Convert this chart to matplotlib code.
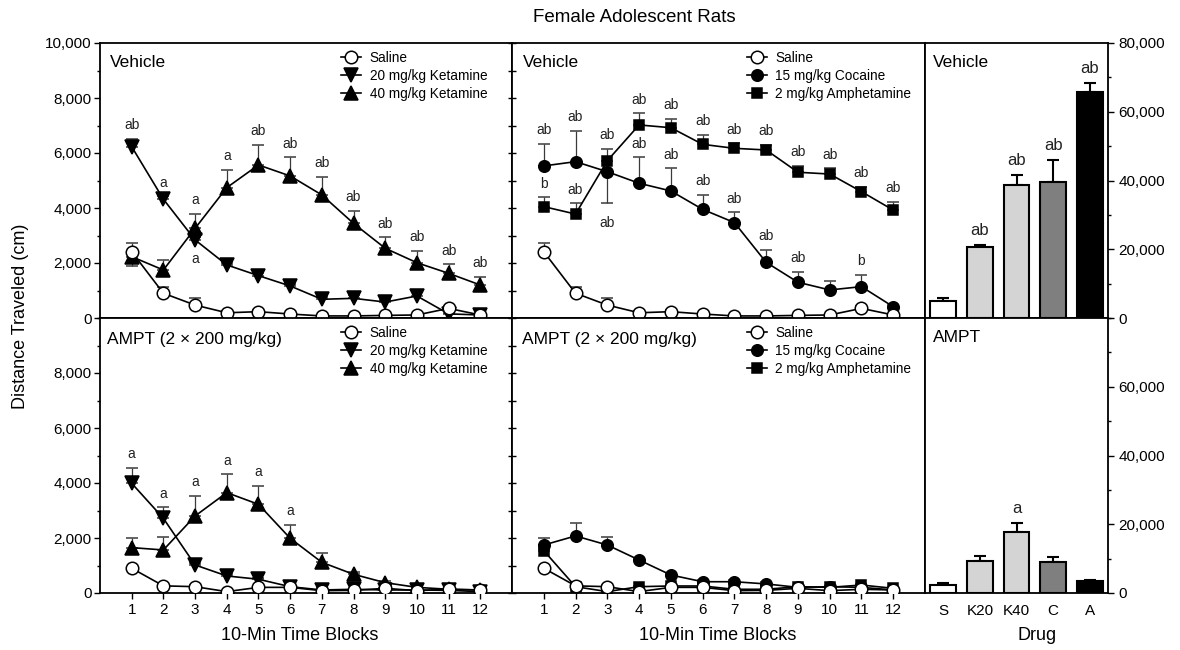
import matplotlib
matplotlib.use("Agg")
import matplotlib.pyplot as plt
from matplotlib.lines import Line2D
from matplotlib.ticker import MultipleLocator, FixedLocator, FuncFormatter

plt.rcParams['font.family'] = ['Liberation Sans', 'DejaVu Sans']

# ---------------- data ----------------
blocks = list(range(1, 13))

# Vehicle pretreatment
veh_sal = [2410, 900, 470, 190, 230, 145, 75, 75, 95, 110, 350, 110]
veh_sal_err = [300, 220, 240, 60, 60, 50, 40, 40, 50, 50, 80, 40]
veh_k20 = [6230, 4320, 2840, 1930, 1540, 1165, 680, 715, 580, 800, 150, 110]
veh_k20_err = [280, 100, 100, 80, 80, 80, 80, 120, 80, 190, 50, 50]
veh_k40 = [2230, 1745, 3260, 4740, 5565, 5165, 4475, 3440, 2535, 2010, 1625, 1200]
veh_k40_err = [0, 365, 520, 645, 725, 680, 665, 450, 400, 425, 325, 300]
veh_k40_err_dn = [345, 0, 0, 0, 0, 0, 0, 0, 0, 0, 0, 0]
veh_coc = [5530, 5685, 5320, 4900, 4620, 3950, 3470, 2025, 1300, 1020, 1140, 410]
veh_coc_err = [800, 1125, 0, 945, 825, 520, 375, 450, 390, 340, 425, 60]
veh_coc_err_dn = [0, 0, 1150, 0, 0, 0, 0, 0, 0, 0, 0, 0]
veh_amp = [4050, 3780, 5720, 7020, 6920, 6315, 6170, 6110, 5300, 5235, 4595, 3925]
veh_amp_err = [340, 390, 425, 425, 315, 340, 180, 180, 230, 205, 180, 305]

# AMPT pretreatment
ampt_sal = [900, 260, 230, 50, 205, 205, 85, 95, 170, 85, 135, 110]
ampt_sal_err = [60, 50, 50, 40, 40, 40, 40, 40, 40, 40, 40, 40]
ampt_k20 = [3990, 2715, 1020, 620, 500, 230, 110, 135, 110, 110, 95, 50]
ampt_k20_err = [570, 400, 60, 60, 60, 60, 60, 200, 60, 60, 60, 60]
ampt_k40 = [1650, 1565, 2800, 3650, 3225, 1990, 1115, 680, 375, 205, 135, 110]
ampt_k40_err = [365, 485, 740, 665, 680, 485, 325, 80, 60, 60, 60, 60]
ampt_coc = [1745, 2075, 1745, 1200, 655, 410, 410, 330, 205, 230, 205, 110]
ampt_coc_err = [265, 460, 300, 60, 60, 60, 60, 60, 60, 60, 60, 60]
ampt_amp = [1540, 230, 50, 230, 255, 255, 135, 135, 230, 205, 290, 170]
ampt_amp_err = [60, 50, 40, 40, 40, 40, 40, 40, 40, 40, 40, 40]

# significance letters
zero12 = [0] * 12
veh_k20_sig = ['ab', 'a', 'a', '', '', '', '', '', '', '', '', '']
veh_k20_below = [2]
veh_k40_sig = ['', '', 'a', 'a', 'ab', 'ab', 'ab', 'ab', 'ab', 'ab', 'ab', 'ab']
veh_coc_sig = ['ab', 'ab', 'ab', 'ab', 'ab', 'ab', 'ab', 'ab', 'ab', '', 'b', '']
veh_coc_below = [2]
veh_amp_sig = ['b', 'ab', 'ab', 'ab', 'ab', 'ab', 'ab', 'ab', 'ab', 'ab', 'ab', 'ab']
ampt_k20_sig = ['a', 'a', '', '', '', '', '', '', '', '', '', '']
ampt_k40_sig = ['', '', 'a', 'a', 'a', 'a', '', '', '', '', '', '']

# total distance (bars)
drugs = ['S', 'K20', 'K40', 'C', 'A']
bar_colors = ['white', '#d4d4d4', '#d4d4d4', '#7f7f7f', 'black']
veh_total = [5060, 20670, 38650, 39550, 65620]
veh_total_err = [790, 670, 2920, 6400, 2810]
veh_total_sig = ['', 'ab', 'ab', 'ab', 'ab']
ampt_total = [2440, 9330, 17780, 9110, 3560]
ampt_total_err = [330, 1440, 2670, 1330, 330]
ampt_total_sig = ['', '', 'a', '', '']

ket_labels = ['Saline', '20 mg/kg Ketamine', '40 mg/kg Ketamine']
psy_labels = ['Saline', '15 mg/kg Cocaine', '2 mg/kg Amphetamine']

# ---------------- styles ----------------
STY_SAL = dict(marker='o', mfc='white', ms=9)
STY_K20 = dict(marker='v', mfc='black', ms=9.5)
STY_K40 = dict(marker='^', mfc='black', ms=9.5)
STY_COC = dict(marker='o', mfc='black', ms=8.3)
STY_AMP = dict(marker='s', mfc='black', ms=7.5)

W, H = 1180, 650
fig = plt.figure(figsize=(W / 100, H / 100), dpi=100)


def rect(x0, y0, x1, y1):
    return [x0 / W, 1 - y1 / H, (x1 - x0) / W, (y1 - y0) / H]


XL, XM, XR, XE = 100, 512, 925, 1108
YT, YMID, YB = 43, 318, 593

ax_tl = fig.add_axes(rect(XL, YT, XM, YMID))
ax_tm = fig.add_axes(rect(XM, YT, XR, YMID))
ax_tr = fig.add_axes(rect(XR, YT, XE, YMID))
ax_bl = fig.add_axes(rect(XL, YMID, XM, YB))
ax_bm = fig.add_axes(rect(XM, YMID, XR, YB))
ax_br = fig.add_axes(rect(XR, YMID, XE, YB))

comma = FuncFormatter(lambda v, p: f"{v:,.0f}")
TICKFS = 11
SIGFS = 10


def draw_series(ax, y, up, dn, sty, z):
    ax.errorbar(blocks, y, yerr=[dn, up], color='black', lw=1.2,
                mec='black', mew=1.1, ecolor='#3a3a3a', elinewidth=0.9,
                capsize=4, capthick=0.9, zorder=z, **sty)


def draw_sig(ax, y, up, dn, sig, below=()):
    for i, s in enumerate(sig):
        if not s:
            continue
        if i in below:
            ax.annotate(s, (blocks[i], y[i] - dn[i]), xytext=(0, -9),
                        textcoords='offset points', ha='center', va='top',
                        fontsize=SIGFS, color='#222222')
        else:
            ax.annotate(s, (blocks[i], y[i] + up[i]), xytext=(0, 7),
                        textcoords='offset points', ha='center', va='baseline',
                        fontsize=SIGFS, color='#222222')


def legend(ax, labels, styles, xanchor):
    handles = [Line2D([], [], color='black', lw=1.2, mec='black', mew=1.1, **s)
               for s in styles]
    ax.legend(handles, labels, loc='upper left', bbox_to_anchor=(xanchor, 0.97),
              frameon=False, fontsize=9.8, handlelength=1.5, handletextpad=0.6,
              labelspacing=0.28, borderpad=0, borderaxespad=0)


def style_line_axes(ax, top, first):
    ax.set_xlim(0, 13)
    ax.set_ylim(0, 10000)
    for sp in ax.spines.values():
        sp.set_linewidth(1.3)
    ax.tick_params(axis='y', which='both', right=False)
    if first:
        if top:
            ax.yaxis.set_major_locator(MultipleLocator(2000))
        else:
            ax.yaxis.set_major_locator(FixedLocator([0, 2000, 4000, 6000, 8000]))
        ax.yaxis.set_minor_locator(MultipleLocator(1000))
        ax.yaxis.set_major_formatter(comma)
        ax.tick_params(axis='y', which='major', direction='out', length=4.5,
                       width=1, labelsize=TICKFS, pad=1.5)
        ax.tick_params(axis='y', which='minor', direction='out', length=2.5, width=1)
    else:
        ax.yaxis.set_major_locator(MultipleLocator(1000))
        ax.yaxis.set_minor_locator(FixedLocator([]))
        ax.tick_params(axis='y', which='major', direction='inout', length=6,
                       width=1, labelleft=False)
    if top:
        ax.tick_params(axis='x', which='both', bottom=False, labelbottom=False)
    else:
        ax.set_xticks(blocks)
        ax.tick_params(axis='x', which='major', direction='out', length=4.5,
                       width=1, labelsize=TICKFS, pad=3)
    ax.tick_params(axis='x', which='minor', bottom=False)


# ---- top-left: Vehicle, ketamine ----
ax = ax_tl
draw_series(ax, veh_k40, veh_k40_err, veh_k40_err_dn, STY_K40, 3)
draw_series(ax, veh_k20, veh_k20_err, zero12, STY_K20, 3.2)
draw_series(ax, veh_sal, veh_sal_err, zero12, STY_SAL, 4)
draw_sig(ax, veh_k20, veh_k20_err, zero12, veh_k20_sig, veh_k20_below)
draw_sig(ax, veh_k40, veh_k40_err, veh_k40_err_dn, veh_k40_sig)
style_line_axes(ax, True, True)
legend(ax, ket_labels, [STY_SAL, STY_K20, STY_K40], 0.585)
ax.text(0.024, 0.93, 'Vehicle', transform=ax.transAxes, fontsize=12.5,
        va='center', ha='left')

# ---- top-middle: Vehicle, psychostimulants ----
ax = ax_tm
draw_series(ax, veh_amp, veh_amp_err, zero12, STY_AMP, 3)
draw_series(ax, veh_coc, veh_coc_err, veh_coc_err_dn, STY_COC, 3.2)
draw_series(ax, veh_sal, veh_sal_err, zero12, STY_SAL, 4)
draw_sig(ax, veh_coc, veh_coc_err, veh_coc_err_dn, veh_coc_sig, veh_coc_below)
draw_sig(ax, veh_amp, veh_amp_err, zero12, veh_amp_sig)
style_line_axes(ax, True, False)
legend(ax, psy_labels, [STY_SAL, STY_COC, STY_AMP], 0.568)
ax.text(0.026, 0.93, 'Vehicle', transform=ax.transAxes, fontsize=12.5,
        va='center', ha='left')

# ---- bottom-left: AMPT, ketamine ----
ax = ax_bl
draw_series(ax, ampt_k40, ampt_k40_err, zero12, STY_K40, 3)
draw_series(ax, ampt_k20, ampt_k20_err, zero12, STY_K20, 3.2)
draw_series(ax, ampt_sal, ampt_sal_err, zero12, STY_SAL, 4)
draw_sig(ax, ampt_k20, ampt_k20_err, zero12, ampt_k20_sig)
draw_sig(ax, ampt_k40, ampt_k40_err, zero12, ampt_k40_sig)
style_line_axes(ax, False, True)
legend(ax, ket_labels, [STY_SAL, STY_K20, STY_K40], 0.585)
ax.text(0.018, 0.923, 'AMPT (2 \u00d7 200 mg/kg)', transform=ax.transAxes,
        fontsize=12.5, va='center', ha='left')

# ---- bottom-middle: AMPT, psychostimulants ----
ax = ax_bm
draw_series(ax, ampt_amp, ampt_amp_err, zero12, STY_AMP, 3)
draw_series(ax, ampt_coc, ampt_coc_err, zero12, STY_COC, 3.2)
draw_series(ax, ampt_sal, ampt_sal_err, zero12, STY_SAL, 4)
style_line_axes(ax, False, False)
legend(ax, psy_labels, [STY_SAL, STY_COC, STY_AMP], 0.568)
ax.text(0.024, 0.923, 'AMPT (2 \u00d7 200 mg/kg)', transform=ax.transAxes,
        fontsize=12.5, va='center', ha='left')


# ---- bar panels ----
def bar_panel(ax, vals, errs, sig, top, title):
    xs = list(range(len(drugs)))
    ax.bar(xs, vals, width=0.7, color=bar_colors, edgecolor='black',
           linewidth=1.5, zorder=2)
    ax.errorbar(xs, vals, yerr=[[0] * len(vals), errs], fmt='none',
                ecolor='black', elinewidth=1.5, capsize=4, capthick=1.5, zorder=1)
    for x, v, e, s in zip(xs, vals, errs, sig):
        if s:
            ax.annotate(s, (x, v + e), xytext=(0, 7), textcoords='offset points',
                        ha='center', va='baseline', fontsize=12, color='#222222')
    ax.set_xlim(-0.5, 4.5)
    ax.set_ylim(0, 80000)
    for sp in ax.spines.values():
        sp.set_linewidth(1.3)
    ax.yaxis.tick_right()
    if top:
        ax.yaxis.set_major_locator(MultipleLocator(20000))
    else:
        ax.yaxis.set_major_locator(FixedLocator([0, 20000, 40000, 60000]))
    ax.yaxis.set_minor_locator(MultipleLocator(10000))
    ax.yaxis.set_major_formatter(comma)
    ax.tick_params(axis='y', which='major', direction='out', length=4.5, width=1,
                   labelsize=TICKFS, pad=3, left=False, right=True)
    ax.tick_params(axis='y', which='minor', direction='out', length=2.5, width=1,
                   left=False, right=True)
    if top:
        ax.tick_params(axis='x', which='both', bottom=False, labelbottom=False)
    else:
        ax.set_xticks(xs)
        ax.set_xticklabels(drugs)
        ax.tick_params(axis='x', which='both', length=0, labelsize=TICKFS, pad=8)
    ax.text(0.044, 0.93, title, transform=ax.transAxes, fontsize=12.5,
            va='center', ha='left')


bar_panel(ax_tr, veh_total, veh_total_err, veh_total_sig, True, 'Vehicle')
bar_panel(ax_br, ampt_total, ampt_total_err, ampt_total_sig, False, 'AMPT')

# ---- figure texts ----
fig.text(634 / W, 1 - 17 / H, 'Female Adolescent Rats', ha='center', va='center',
         fontsize=13.5)
fig.text(21 / W, 1 - 316 / H, 'Distance Traveled (cm)', rotation=90,
         ha='center', va='center', fontsize=13)
fig.text(300 / W, 1 - 636 / H, '10-Min Time Blocks', ha='center', va='center',
         fontsize=13)
fig.text(718 / W, 1 - 636 / H, '10-Min Time Blocks', ha='center', va='center',
         fontsize=13)
fig.text(1037 / W, 1 - 636 / H, 'Drug', ha='center', va='center', fontsize=13)

fig.savefig('out.png', dpi=100)
